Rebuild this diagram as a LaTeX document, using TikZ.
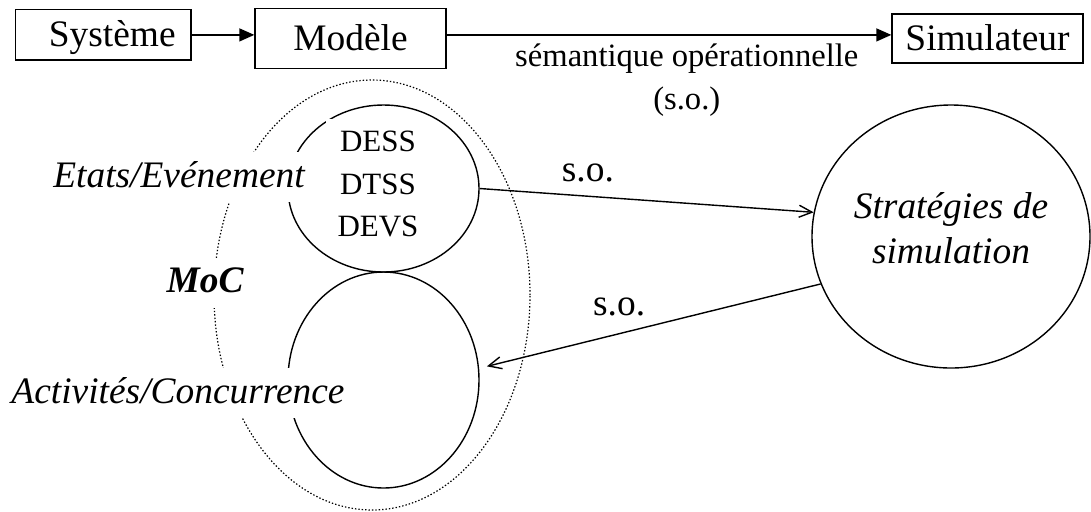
\documentclass[tikz,border=0pt]{standalone}
\usepackage{fontspec}
\setmainfont{Liberation Serif}
\usepackage{tikz}
\usetikzlibrary{arrows.meta,shapes.geometric,positioning}

\newcommand{\taille}{\fontsize{18.7}{22.4}\selectfont}

\begin{document}
\begin{tikzpicture}[x=0.5pt,y=-0.5pt,
    topbox/.style={draw, line width=0.7pt, inner sep=0pt, font=\taille, text height=12pt, text depth=0pt},
    bulle/.style={draw, ellipse, line width=0.7pt, inner sep=0pt},
    lbl/.style={fill=white, inner sep=3pt, text height=14.5pt, text depth=4.5pt},
    fleche/.style={line width=0.7pt, -{Triangle[length=7.5pt,width=6.5pt]}},
    so/.style={line width=0.7pt, -{Straight Barb[length=6.5pt,width=6pt]}}]
  \useasboundingbox (0,0) rectangle (1091,511);

  % chaine du haut
  \node[topbox, minimum width=87.7pt, minimum height=25.2pt] (sys) at (103.3,34.9) {\hspace*{9pt}Système};
  \node[topbox, minimum width=95.5pt, minimum height=29.9pt] (mod) at (350.5,38.6) {Modèle};
  \node[topbox, minimum width=95.5pt, minimum height=24.5pt] (sim) at (987.5,38.5) {Simulateur};
  \draw[fleche] (sys.east) -- (mod.west |- sys.east);
  \draw[fleche] (mod.east |- sys.east) -- (sim.west |- sys.east)
    node[pos=0.54, below=4pt, inner sep=0pt, align=center, font=\fontsize{16.3}{21.5}\selectfont] (semop) {sémantique opérationnelle\\(s.o.)};

  % MoC
  \node[bulle, densely dotted, line width=0.6pt, minimum width=158pt, minimum height=215pt] (moc) at (372,295) {};
  \node[bulle, minimum width=95.5pt, minimum height=83.5pt] (etat) at (383.5,188.5) {};
  \node[bulle, minimum width=95.5pt, minimum height=108pt] (activ) at (383.5,380) {};
  \node[fill=white, inner sep=6pt, align=center, font=\fontsize{15.5}{21.3}\selectfont] (formels) at (378,184) {DESS\\DTSS\\DEVS};
  \node[lbl, font=\taille\itshape] (etatlbl) at (179,177) {Etats/Evénement};
  \node[lbl, font=\taille\bfseries\itshape] (moclbl) at (205,282.5) {MoC};
  \node[lbl, font=\taille\itshape] (activlbl) at (178,393) {Activités/Concurrence};

  % strategies
  \node[bulle, minimum width=139pt, minimum height=131.5pt, align=center, text depth=8.25pt, font=\taille\itshape] (strat) at (951,236.5) {Stratégies de\\simulation};

  \draw[so] (etat.east) -- (strat.170)
    node[pos=0.324, above=6.5pt, inner sep=0pt, font=\taille] (so1) {s.o.};
  \draw[so, shorten >=4pt] (strat.200) -- (activ.7)
    node[pos=0.59, above=8.7pt, inner sep=0pt, font=\taille] (so2) {s.o.};
\end{tikzpicture}
\end{document}
